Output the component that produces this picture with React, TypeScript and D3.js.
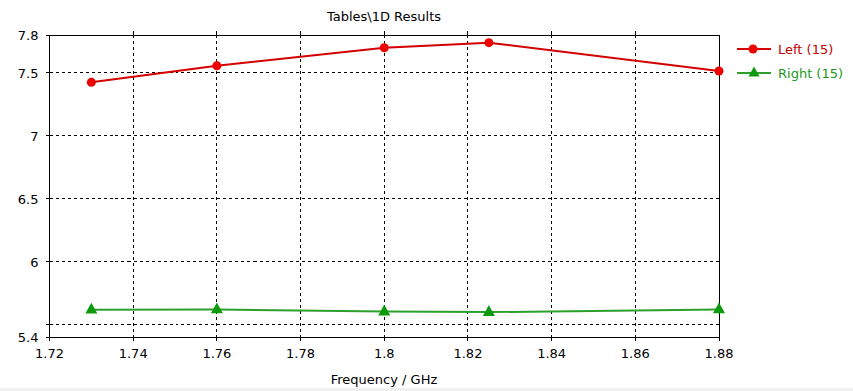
import React from "react";
import * as d3 from "d3";

const frequencies = [1.73, 1.76, 1.8, 1.825, 1.88];
const leftValues = [7.424, 7.556, 7.699, 7.739, 7.514];
const rightValues = [5.617, 5.618, 5.602, 5.598, 5.618];
const xTicks = [1.72, 1.74, 1.76, 1.78, 1.8, 1.82, 1.84, 1.86, 1.88];
const yTicks = [5.4, 5.5, 6, 6.5, 7, 7.5, 7.8];
const yLabels = ["5.4", "", "6", "6.5", "7", "7.5", "7.8"];
const seriesNames = ["Left (15)", "Right (15)"];

const W = 853, H = 391;
const M = { left: 49.5, right: 719, top: 35, bottom: 337 };
const FONT = "Tahoma, 'DejaVu Sans', Verdana, sans-serif";

export default function App() {
  const x = d3.scaleLinear().domain([1.72, 1.88]).range([M.left, M.right]);
  const y = d3.scaleLinear().domain([5.4, 7.8]).range([M.bottom, M.top]);
  const line = d3.line<number>().x((_, i) => x(frequencies[i])).y((d) => y(d));
  const red = "#d40000";
  const redMarker = "#f00000";
  const green = "#2ca02c";
  const greenMarker = "#0a9a0a";
  const tri = (cx: number, cy: number, s = 6) =>
    `M${cx},${cy - s} L${cx + s},${cy + s * 0.8} L${cx - s},${cy + s * 0.8} Z`;

  return (
    <svg width={W} height={H} style={{ position: "absolute", left: 0, top: 0, background: "#fff" }} fontFamily={FONT}>
      <rect x={0} y={0} width={W} height={H} fill="#fff" />
      <rect x={0} y={388} width={W} height={3} fill="#f0f0f0" />
      {/* title */}
      <text x={384} y={21} textAnchor="middle" fontSize={13} fill="#000">Tables\1D Results</text>
      {/* grid */}
      {xTicks.slice(1, -1).map((t) => (
        <line key={"gx" + t} x1={x(t)} x2={x(t)} y1={M.top} y2={M.bottom} stroke="#000" strokeDasharray="3,3" strokeWidth={1} shapeRendering="crispEdges" />
      ))}
      {yTicks.slice(1, -1).map((t) => (
        <line key={"gy" + t} x1={M.left} x2={M.right} y1={y(t)} y2={y(t)} stroke="#000" strokeDasharray="3,3" strokeWidth={1} shapeRendering="crispEdges" />
      ))}
      {/* frame */}
      <rect x={M.left} y={M.top} width={M.right - M.left} height={M.bottom - M.top} fill="none" stroke="#000" strokeWidth={1} shapeRendering="crispEdges" />
      {/* ticks */}
      {xTicks.map((t, i) => (
        <g key={"tx" + t}>
          <line x1={x(t)} x2={x(t)} y1={M.bottom} y2={M.bottom + 4} stroke="#000" shapeRendering="crispEdges" />
          {i > 0 && i < xTicks.length - 1 && (
            <line x1={x(t)} x2={x(t)} y1={M.top} y2={M.top - 4} stroke="#000" shapeRendering="crispEdges" />
          )}
          <text x={x(t)} y={358} textAnchor="middle" fontSize={13} fill="#000">{String(t)}</text>
        </g>
      ))}
      {yTicks.map((t, i) => (
        <g key={"ty" + t}>
          <line x1={M.left - 4} x2={M.left} y1={y(t)} y2={y(t)} stroke="#000" shapeRendering="crispEdges" />
          {yLabels[i] && (
            <text x={M.left - 11} y={y(t) + 5} textAnchor="end" fontSize={13} fill="#000">{yLabels[i]}</text>
          )}
        </g>
      ))}
      <text x={384} y={384} textAnchor="middle" fontSize={13} fill="#000">Frequency / GHz</text>
      {/* series */}
      <path d={line(leftValues) || ""} fill="none" stroke={red} strokeWidth={2} />
      {leftValues.map((v, i) => (
        <circle key={"l" + i} cx={x(frequencies[i])} cy={y(v)} r={4.5} fill={redMarker} />
      ))}
      <path d={line(rightValues) || ""} fill="none" stroke={green} strokeWidth={2} />
      {rightValues.map((v, i) => (
        <path key={"r" + i} d={tri(x(frequencies[i]), y(v) - 1)} fill={greenMarker} />
      ))}
      {/* legend */}
      <line x1={737} x2={771} y1={49} y2={49} stroke={red} strokeWidth={2} />
      <circle cx={753} cy={49} r={4.5} fill={redMarker} />
      <text x={778} y={54} fontSize={13} fill="#c00000">{seriesNames[0]}</text>
      <line x1={737} x2={771} y1={73} y2={73} stroke={green} strokeWidth={2} />
      <path d={tri(754, 72, 5.5)} fill={greenMarker} />
      <text x={778} y={78} fontSize={13} fill="#1a9a1a">{seriesNames[1]}</text>
    </svg>
  );
}
